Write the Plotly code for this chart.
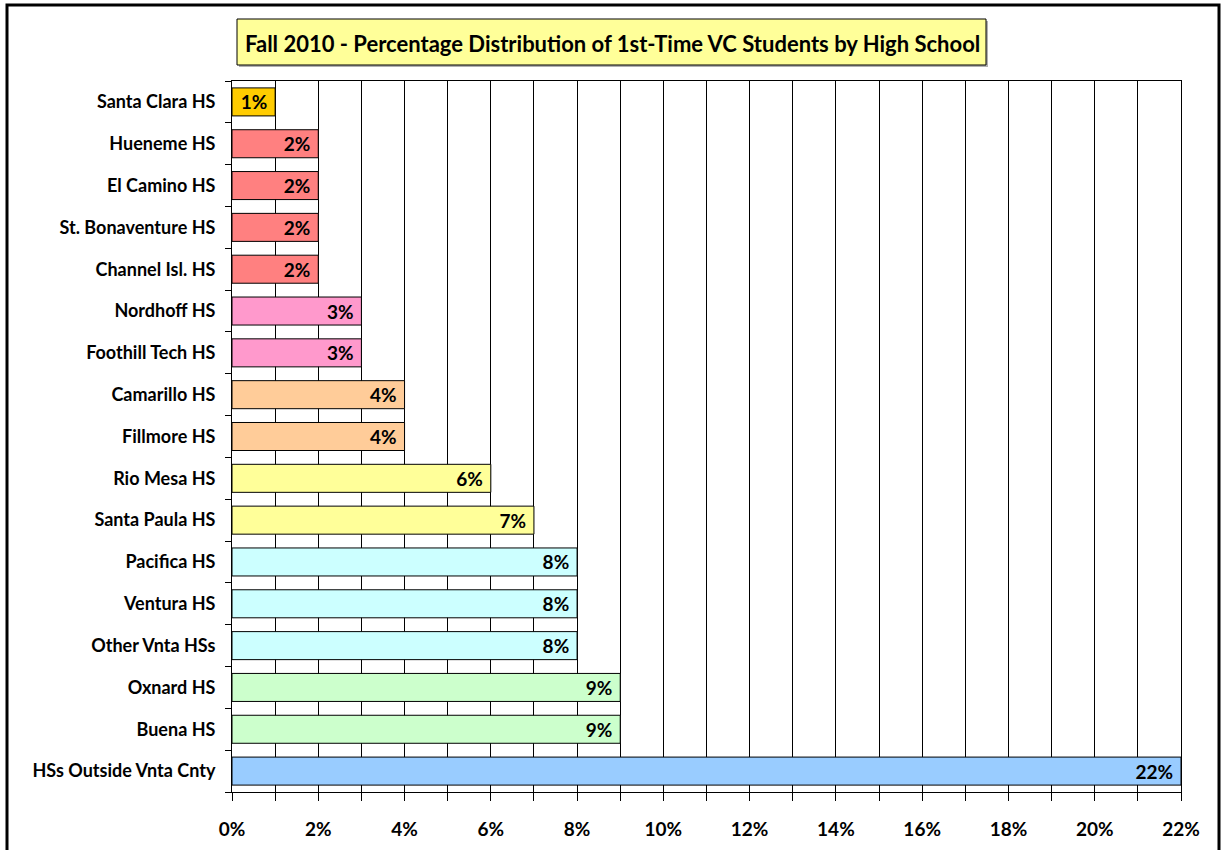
import plotly.graph_objects as go

schools = ["Santa Clara HS", "Hueneme HS", "El Camino HS", "St. Bonaventure HS",
           "Channel Isl. HS", "Nordhoff HS", "Foothill Tech HS", "Camarillo HS",
           "Fillmore HS", "Rio Mesa HS", "Santa Paula HS", "Pacifica HS",
           "Ventura HS", "Other Vnta HSs", "Oxnard HS", "Buena HS",
           "HSs Outside Vnta Cnty"]
pct = [1, 2, 2, 2, 2, 3, 3, 4, 4, 6, 7, 8, 8, 8, 9, 9, 22]
colors = ["#FFCC00", "#FF8080", "#FF8080", "#FF8080", "#FF8080", "#FF99CC", "#FF99CC",
          "#FFCC99", "#FFCC99", "#FFFF99", "#FFFF99", "#CCFFFF", "#CCFFFF", "#CCFFFF",
          "#CCFFCC", "#CCFFCC", "#99CCFF"]
x_ticks = list(range(0, 23, 2))
title = "Fall 2010 - Percentage Distribution of 1st-Time VC Students by High School"

FONT = "Lato"
W, H = 1222, 850
L, R, T, B = 232, 41, 81, 58
pw, ph = W - L - R, H - T - B

def px(x):
    return (x - L) / pw

def py(y):
    return (H - B - y) / ph

fig = go.Figure(go.Bar(
    y=schools, x=pct, orientation="h",
    marker=dict(color=colors, line=dict(color="#000000", width=1)),
    text=[f"<b>{v}%</b>&nbsp;" for v in pct], texttemplate="%{text}",
    textposition="inside", insidetextanchor="end",
    textfont=dict(family=FONT, size=19, color="#000000"),
    constraintext="none", cliponaxis=False, hoverinfo="skip",
))

fig.update_layout(
    width=W, height=H,
    margin=dict(l=L, r=R, t=T, b=B, autoexpand=False),
    paper_bgcolor="white", plot_bgcolor="white",
    bargap=0.33, showlegend=False,
    font=dict(family=FONT, size=18, color="#000000"),
    xaxis=dict(
        range=[0, 22], tickvals=x_ticks, ticktext=[f"<b>{v}%</b>" for v in x_ticks],
        showgrid=True, gridcolor="#000000", gridwidth=1,
        ticks="outside", ticklen=8, tickcolor="#000000", tickwidth=1,
        minor=dict(dtick=1, tick0=0, showgrid=True, gridcolor="#000000", gridwidth=1,
                   ticks="outside", ticklen=8, tickcolor="#000000"),
        showline=True, linecolor="#000000", linewidth=1, mirror=True,
        zeroline=False, tickfont=dict(family=FONT, size=19, color="#000000"),
        ticklabelstandoff=12, fixedrange=True,
    ),
    yaxis=dict(
        categoryorder="array", categoryarray=schools, autorange="reversed",
        tickmode="array", tickvals=schools, ticktext=[f"<b>{s}</b>" for s in schools],
        tickson="boundaries", ticks="outside", ticklen=6, tickcolor="#000000",
        showline=True, linecolor="#000000", linewidth=1, mirror=True,
        showgrid=False, tickfont=dict(family=FONT, size=18, color="#000000"),
        ticklabelstandoff=12, fixedrange=True,
    ),
    shapes=[
        dict(type="rect", xref="paper", yref="paper",
             x0=px(7), x1=px(1219), y0=py(853), y1=py(5),
             line=dict(color="#000000", width=3), fillcolor="rgba(0,0,0,0)", layer="above"),
        dict(type="rect", xref="paper", yref="paper",
             x0=px(239), x1=px(988), y0=py(67), y1=py(21),
             line=dict(width=0), fillcolor="#b0b0b0"),
        dict(type="rect", xref="paper", yref="paper",
             x0=px(237), x1=px(986), y0=py(65), y1=py(19),
             line=dict(color="#000000", width=1), fillcolor="#FFFF99"),
    ],
    annotations=[
        dict(text=f"<b>{title}</b>", xref="paper", yref="paper",
             x=px(612), y=py(43), xanchor="center", yanchor="middle",
             showarrow=False, font=dict(family=FONT, size=22, color="#000000")),
    ],
)

fig.write_html("out.html", config={"displayModeBar": False},
               post_script="document.body.style.margin='0';")
